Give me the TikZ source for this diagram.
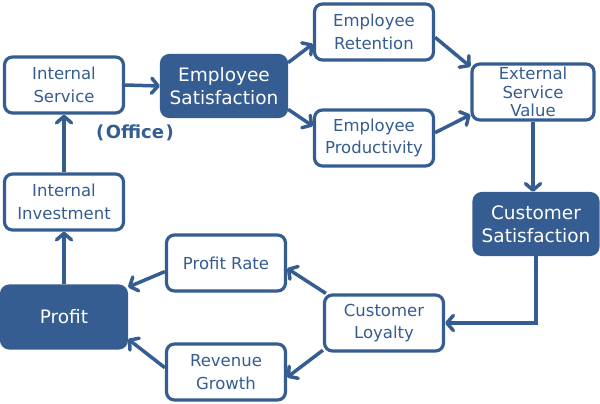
\documentclass[tikz,border=0pt]{standalone}
\usepackage{fontspec}
\setmainfont{DejaVu Sans}
\usetikzlibrary{arrows.meta}
\definecolor{chainblue}{RGB}{53,93,145}
\tikzset{
  link/.style={draw=chainblue, line width=3.5pt,
    -{Straight Barb[length=6.5pt,width=15pt,line cap=round,line join=round]}},
  box/.style={draw=chainblue, line width=3.2pt, rounded corners=8pt, fill=white,
    text=chainblue, align=center, font=\fontsize{16.5}{22.5}\selectfont,
    minimum width=119pt, minimum height=56pt, inner sep=0pt},
  keybox/.style={box, fill=chainblue, text=white,
    font=\fontsize{18.5}{23}\selectfont, minimum width=125pt, minimum height=61pt}
}
\begin{document}
\begin{tikzpicture}[x=1pt, y=-1pt]
  \useasboundingbox (0,0) rectangle (600,404);
  % upper half: service side
  \node[box] (is) at (64,85) {Internal\\Service};
  \node[box] (ii) at (64,202) {Internal\\Investment};
  \node[keybox] (es) at (224,86) {Employee\\Satisfaction};
  \node[box] (ret) at (374,32) {Employee\\Retention};
  \node[box] (prod) at (374,138) {Employee\\Productivity};
  \node[box, minimum width=122pt, font=\fontsize{16.5}{18.5}\selectfont] (esv) at (533,92) {External\\Service\\Value};
  \node[font=\bfseries\fontsize{18}{20}\selectfont, text=chainblue] (office) at (135,133) {(\kern1.5pt Office\kern1.5pt)};
  % lower half: customer side
  \node[keybox, minimum width=124pt] (cs) at (536,224) {Customer\\Satisfaction};
  \node[box] (cl) at (384,323) {Customer\\Loyalty};
  \node[box] (pr) at (226,263) {Profit Rate};
  \node[box] (rg) at (226,372) {Revenue\\Growth};
  \node[keybox, minimum height=62pt] (profit) at (64,317) {Profit};

  \draw[link] (ii.north) -- (is.south);
  \draw[link] (profit.north) -- (ii.south);
  \draw[link] (is.east) -- (es.west);
  \draw[link] (es.20) -- (ret.191);
  \draw[link] (es.-20) -- (prod.169);
  \draw[link] (ret.-5) -- (esv.158);
  \draw[link] (prod.5) -- (esv.200);
  \draw[link] (esv.south) -- (esv.south |- cs.north);
  \draw[link] (cs.south) |- (cl.east);
  \draw[link] (cl.153) -- (pr.-5);
  \draw[link] (cl.204) -- (rg.-5);
  \draw[link] (pr.188) -- (profit.25);
  \draw[link] (rg.176) -- (profit.-19);
\end{tikzpicture}
\end{document}
